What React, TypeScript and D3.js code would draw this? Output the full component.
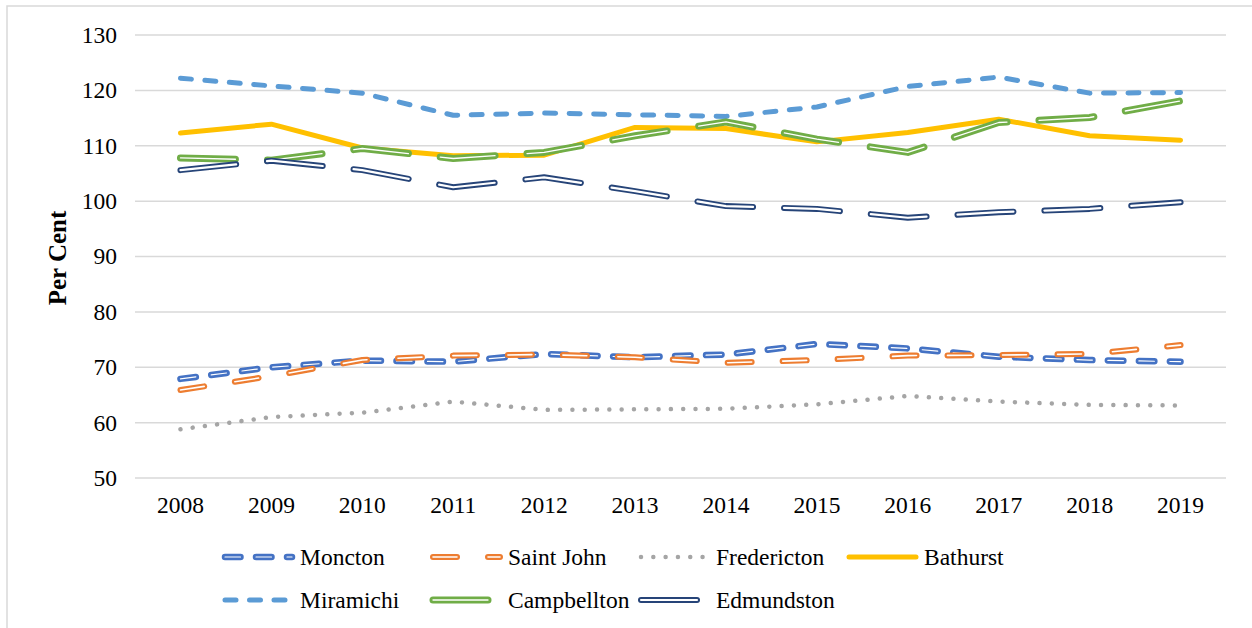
import React, { useEffect, useRef } from 'react';
import * as d3 from 'd3';

const years = ['2008', '2009', '2010', '2011', '2012', '2013', '2014', '2015', '2016', '2017', '2018', '2019'];
const yTicks = [50, 60, 70, 80, 90, 100, 110, 120, 130];

const moncton = [67.9, 70.0, 71.2, 71.0, 72.4, 71.8, 72.3, 74.2, 73.4, 71.9, 71.3, 71.0];
const saintJohn = [65.9, 68.4, 71.3, 72.1, 72.3, 71.8, 70.8, 71.3, 72.1, 72.2, 72.4, 74.0];
const fredericton = [58.8, 61.0, 61.8, 63.8, 62.3, 62.4, 62.5, 63.3, 64.8, 63.8, 63.2, 63.1];
const bathurst = [112.3, 113.9, 109.6, 108.2, 108.3, 113.3, 113.1, 110.7, 112.4, 114.8, 111.8, 111.0];
const miramichi = [122.2, 120.8, 119.5, 115.5, 115.9, 115.6, 115.3, 117.0, 120.7, 122.4, 119.5, 119.6];
const campbellton = [107.8, 107.4, 109.5, 107.7, 108.8, 111.8, 114.3, 111.2, 108.8, 114.2, 115.1, 118.1];
const edmundston = [105.6, 107.3, 105.6, 102.5, 104.3, 101.8, 99.1, 98.6, 97.0, 98.0, 98.6, 99.8];

// stroke styles roughly like the Excel line formats (inner = white core of double lines)
const series = [
  { name: 'Moncton', values: moncton, color: '#4472C4', width: 6.5, dash: '15.5,15.5', inner: 1.2 },
  { name: 'Saint John', values: saintJohn, color: '#ED7D31', width: 6, dash: '24,31', inner: 1.6 },
  { name: 'Fredericton', values: fredericton, color: '#A5A5A5', width: 4.5, dash: '0.01,12.3', inner: 0 },
  { name: 'Bathurst', values: bathurst, color: '#FFC000', width: 5, dash: null, inner: 0 },
  { name: 'Miramichi', values: miramichi, color: '#5B9BD5', width: 5, dash: '11,13.5', inner: 0 },
  { name: 'Campbellton', values: campbellton, color: '#70AD47', width: 7, dash: '55,32', inner: 1.3 },
  { name: 'Edmundston', values: edmundston, color: '#264478', width: 6, dash: '56,31', inner: 2.2 }
];

const W = 1252;
const H = 628;
const font = '"Liberation Serif", "Times New Roman", serif';

function drawStroke(g, d, s) {
  g.append('path')
    .attr('d', d)
    .attr('fill', 'none')
    .attr('stroke', s.color)
    .attr('stroke-width', s.width)
    .attr('stroke-linecap', 'round')
    .attr('stroke-linejoin', 'round')
    .attr('stroke-dasharray', s.dash);
  if (s.inner) {
    g.append('path')
      .attr('d', d)
      .attr('fill', 'none')
      .attr('stroke', '#fff')
      .attr('stroke-width', s.inner)
      .attr('stroke-linecap', 'round')
      .attr('stroke-linejoin', 'round')
      .attr('stroke-dasharray', s.dash);
  }
}

export default function App() {
  const ref = useRef(null);

  useEffect(() => {
    const svg = d3.select(ref.current);
    svg.selectAll('*').remove();

    const x = d3.scaleBand().domain(years).range([135, 1226]);
    const y = d3.scaleLinear().domain([50, 130]).range([478, 35]);
    const cx = (yr) => x(yr) + x.bandwidth() / 2;

    // outer chart frame
    svg.append('rect')
      .attr('x', 7).attr('y', 6)
      .attr('width', 1400).attr('height', 800)
      .attr('fill', '#fff')
      .attr('stroke', '#D9D9D9')
      .attr('stroke-width', 1.5);

    // gridlines
    svg.append('g')
      .selectAll('line')
      .data(yTicks)
      .join('line')
      .attr('x1', 135).attr('x2', 1226)
      .attr('y1', (d) => y(d)).attr('y2', (d) => y(d))
      .attr('stroke', '#D9D9D9')
      .attr('stroke-width', 1.5);

    svg.append('g')
      .selectAll('text')
      .data(yTicks)
      .join('text')
      .attr('x', 117)
      .attr('y', (d) => y(d))
      .attr('dy', '0.34em')
      .attr('text-anchor', 'end')
      .attr('font-family', font)
      .attr('font-size', 23.5)
      .text((d) => d);

    svg.append('g')
      .selectAll('text')
      .data(years)
      .join('text')
      .attr('x', (d) => cx(d))
      .attr('y', 513)
      .attr('text-anchor', 'middle')
      .attr('font-family', font)
      .attr('font-size', 23.5)
      .text((d) => d);

    svg.append('text')
      .attr('transform', 'translate(66,258) rotate(-90)')
      .attr('text-anchor', 'middle')
      .attr('font-family', font)
      .attr('font-weight', 'bold')
      .attr('font-size', 25)
      .text('Per Cent');

    const line = d3.line()
      .x((d, i) => cx(years[i]))
      .y((d) => y(d));

    const lines = svg.append('g');
    series.forEach((s) => drawStroke(lines, line(s.values), s));

    // legend, 4 columns x 2 rows
    const legend = svg.append('g');
    series.forEach((s, i) => {
      const col = i % 4;
      const row = Math.floor(i / 4);
      const x0 = 225 + col * 208;
      const yy = row === 0 ? 557 : 600;
      drawStroke(legend, `M${x0},${yy}H${x0 + 67}`, s);
      legend.append('text')
        .attr('x', x0 + 75)
        .attr('y', yy + 8)
        .attr('font-family', font)
        .attr('font-size', 23.5)
        .text(s.name);
    });
  }, []);

  return (
    <svg
      ref={ref}
      width={W}
      height={H}
      style={{ position: 'fixed', left: 0, top: 0, background: '#fff' }}
    />
  );
}
